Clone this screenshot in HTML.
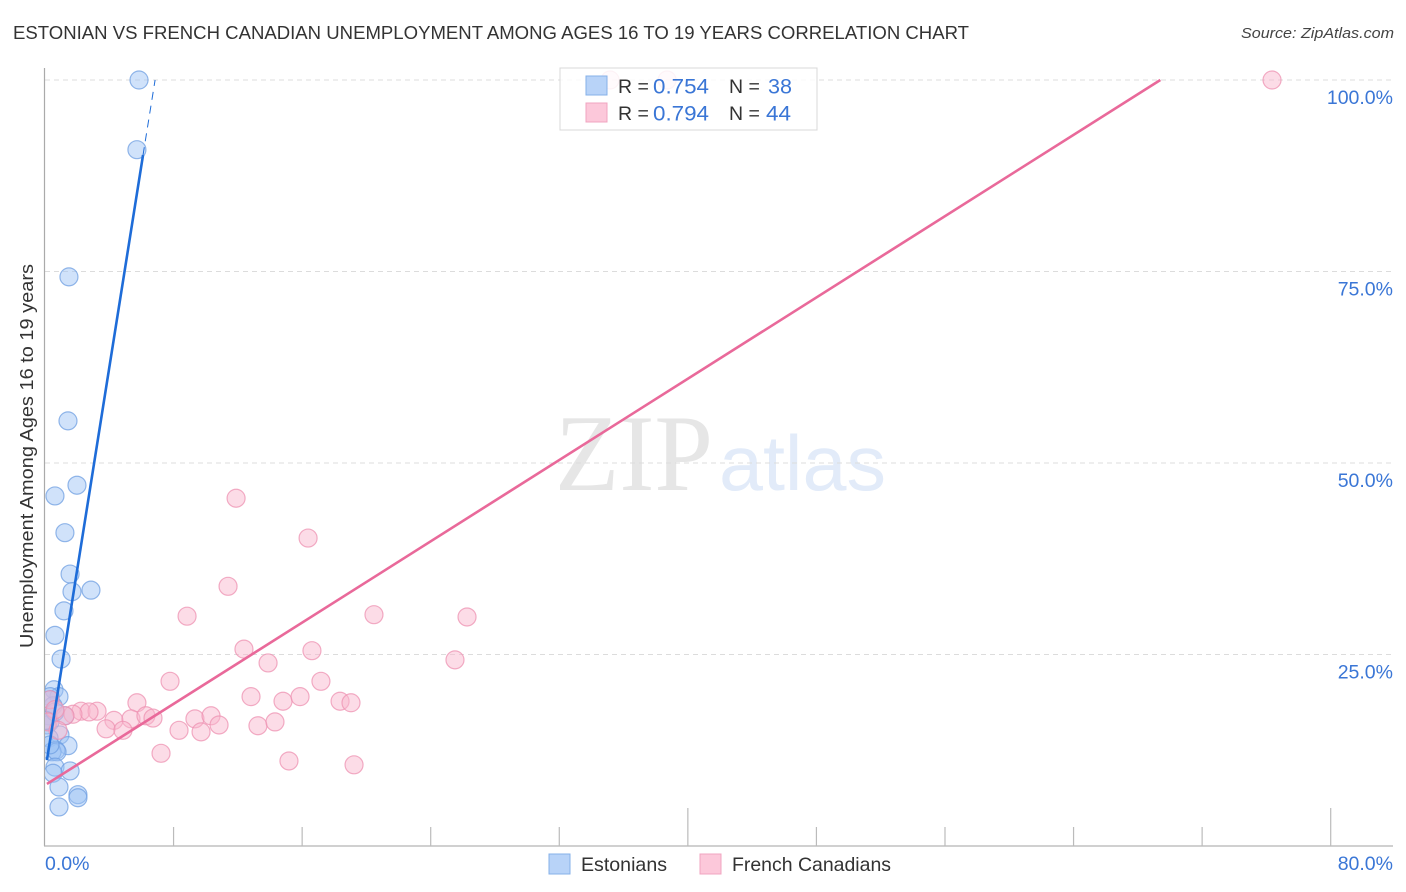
<!DOCTYPE html>
<html lang="en">
<head>
<meta charset="utf-8">
<title>Estonian vs French Canadian Unemployment Correlation Chart</title>
<style>
html,body{margin:0;padding:0;background:#fff;width:1406px;height:892px;overflow:hidden}
svg{display:block;font-family:"Liberation Sans",sans-serif}
</style>
</head>
<body>
<svg id="chart" width="1406" height="892" viewBox="0 0 1406 892" xmlns="http://www.w3.org/2000/svg">
  <defs>
    <clipPath id="plot-clip"><rect x="45" y="60" width="1348" height="786"/></clipPath>
  </defs>
  <text x="13" y="39" font-size="18.5" fill="#333" textLength="956" lengthAdjust="spacingAndGlyphs">ESTONIAN VS FRENCH CANADIAN UNEMPLOYMENT AMONG AGES 16 TO 19 YEARS CORRELATION CHART</text>
  <text x="1394" y="38" font-size="15" font-style="italic" fill="#444" text-anchor="end" textLength="153" lengthAdjust="spacingAndGlyphs">Source: ZipAtlas.com</text>
  <text x="555" y="490" font-size="109" fill="#e6e6e6" style="font-family:'Liberation Serif',serif" textLength="158" lengthAdjust="spacingAndGlyphs">ZIP</text>
  <text x="719" y="490" font-size="78" fill="#e2ebf9" textLength="167" lengthAdjust="spacingAndGlyphs">atlas</text>
  <g id="grid"></g>
  <g id="axes"></g>
  <g id="points" clip-path="url(#plot-clip)"></g>
  <g id="trends"></g>
  <text transform="translate(33,456) rotate(-90)" font-size="18.5" fill="#333" text-anchor="middle" textLength="384" lengthAdjust="spacingAndGlyphs">Unemployment Among Ages 16 to 19 years</text>
  <g>
    <rect x="560" y="68" width="257" height="62" fill="#fff" fill-opacity="0.85" stroke="#d8d8d8"/>
    <rect x="586" y="76" width="21" height="19" fill="#b8d3f8" stroke="#86b0e8"/>
    <rect x="586" y="103" width="21" height="19" fill="#fcc8da" stroke="#f0a4c0"/>
    <text x="618" y="93" font-size="19.5" fill="#333" xml:space="preserve">R =</text>
    <text x="653" y="93.500" font-size="21" fill="#3a76d6" textLength="56" lengthAdjust="spacingAndGlyphs">0.754</text>
    <text x="729" y="93" font-size="19.5" fill="#333" xml:space="preserve">N =</text>
    <text x="768" y="93.500" font-size="21" fill="#3a76d6" textLength="24" lengthAdjust="spacingAndGlyphs">38</text>
    <text x="618" y="120" font-size="19.5" fill="#333" xml:space="preserve">R =</text>
    <text x="653" y="120.500" font-size="21" fill="#3a76d6" textLength="56" lengthAdjust="spacingAndGlyphs">0.794</text>
    <text x="729" y="120" font-size="19.5" fill="#333" xml:space="preserve">N =</text>
    <text x="766" y="120.500" font-size="21" fill="#3a76d6" textLength="25" lengthAdjust="spacingAndGlyphs">44</text>
  </g>
  <g>
    <rect x="549" y="854" width="21" height="20" fill="#b8d3f8" stroke="#86b0e8"/>
    <text x="581" y="871" font-size="19.5" fill="#333" textLength="86" lengthAdjust="spacingAndGlyphs">Estonians</text>
    <rect x="700" y="854" width="21" height="20" fill="#fcc8da" stroke="#f0a4c0"/>
    <text x="732" y="871" font-size="19.5" fill="#333" textLength="159" lengthAdjust="spacingAndGlyphs">French Canadians</text>
  </g>
</svg>
<script>
const estoniansX = [5.85,5.72,1.49,1.43,0.62,1.99,1.24,1.56,1.68,2.86,1.18,0.62,1.0,0.56,0.87,0.31,0.5,1.24,0.19,0.31,0.12,0.93,0.25,1.43,0.68,0.44,0.75,0.62,1.56,0.5,0.87,0.87,2.05,2.05,0.31,0.62,0.06,0.31];
const estoniansY = [100,90.9,74.3,55.5,45.7,47.1,40.9,35.5,33.2,33.4,30.7,27.5,24.4,20.4,19.5,19.5,18.3,17.0,17.0,16.2,15.8,14.5,14.1,13.1,12.5,12.3,12.3,10.3,9.8,9.5,7.7,5.1,6.7,6.3,19.1,17.5,16.4,13.2];
const frenchX = [76.35,35.16,38.71,11.89,16.37,11.39,8.84,20.47,26.26,12.38,25.51,16.61,13.88,7.78,17.17,5.72,12.82,14.81,15.87,18.36,19.04,2.24,3.24,2.74,1.74,1.24,4.29,5.35,6.28,6.72,9.33,10.33,3.8,4.85,8.34,9.71,10.83,13.25,14.31,7.22,15.18,19.23,0.31,0.62,0.19,0.81];
const frenchY = [100,100,100,45.4,40.2,33.9,30.0,30.2,29.9,25.7,24.3,25.5,23.9,21.5,21.5,18.7,19.5,18.9,19.5,18.9,18.7,17.6,17.6,17.5,17.2,17.0,16.4,16.6,17.0,16.7,16.6,17.0,15.3,15.1,15.1,14.9,15.8,15.7,16.2,12.1,11.1,10.6,19.1,17.8,16.2,15.1];
const estoniansTrendX = [0.12,6.1];
const estoniansTrendY = [11.2,90.2];
const estoniansDashX = [6.1,6.85];
const estoniansDashY = [90.2,100];
const frenchTrendX = [0.12,69.4];
const frenchTrendY = [8.1,100];
const yTickValues = [25,50,75,100];
const yTickLabels = ["25.0%","50.0%","75.0%","100.0%"];
const xTickValues = [8,16,24,32,40,48,56,64,72,80];
const xMajorTicks = [40,80];
const xEndLabels = ["0.0%","80.0%"];

const NS = "http://www.w3.org/2000/svg";
const xScale = v => 45 + v * (1285.7 / 80);
const yScale = v => 846 - v * 7.66;

function make(parent, tag, attrs) {
  const el = document.createElementNS(NS, tag);
  for (const k in attrs) el.setAttribute(k, attrs[k]);
  parent.appendChild(el);
  return el;
}

const grid = document.getElementById("grid");
const axes = document.getElementById("axes");
const pts = document.getElementById("points");
const trends = document.getElementById("trends");

yTickValues.forEach((v, i) => {
  const line = make(grid, "line", {x1:45, x2:1393, y1:yScale(v), y2:yScale(v), stroke:"#dcdcdc", "stroke-width":1, "stroke-dasharray":"5 4"});
  
  
  const label = make(axes, "text", {x:1393, y:yScale(v) + 24, "font-size":19.5, fill:"#3a76d6", "text-anchor":"end"});
  label.textContent = yTickLabels[i];
  
  
});

const yAxis = make(axes, "line", {x1:44.5, x2:44.5, y1:68, y2:846, stroke:"#aaa", "stroke-width":1.2});


const xAxis = make(axes, "line", {x1:44, x2:1393, y1:846, y2:846, stroke:"#b4b4b4", "stroke-width":1.2});



xTickValues.forEach(v => {
  const major = xMajorTicks.includes(v);
  const tick = make(axes, "line", {x1:xScale(v), x2:xScale(v), y1:846, y2:major ? 808 : 827, stroke:"#bbb", "stroke-width":1.2});
  
  
});

const xLeft = make(axes, "text", {x:45, y:870, "font-size":19.5, fill:"#3a76d6"});
xLeft.textContent = xEndLabels[0];


const xRight = make(axes, "text", {x:1393, y:870, "font-size":19.5, fill:"#3a76d6", "text-anchor":"end"});
xRight.textContent = xEndLabels[1];



estoniansX.forEach((v, i) => {
  const c = make(pts, "circle", {cx:xScale(v), cy:yScale(estoniansY[i]), r:9, fill:"#9cc2f4", "fill-opacity":0.48, stroke:"#6f9fe2", "stroke-opacity":0.75, "stroke-width":1.2});
  
  
});
frenchX.forEach((v, i) => {
  const c = make(pts, "circle", {cx:xScale(v), cy:yScale(frenchY[i]), r:9, fill:"#f9b6cc", "fill-opacity":0.48, stroke:"#ee92b2", "stroke-opacity":0.75, "stroke-width":1.2});
  
  
});

const blueTrend = make(trends, "line", {x1:xScale(estoniansTrendX[0]), y1:yScale(estoniansTrendY[0]), x2:xScale(estoniansTrendX[1]), y2:yScale(estoniansTrendY[1]), stroke:"#1e6cd8", "stroke-width":2.6});


const blueDash = make(trends, "line", {x1:xScale(estoniansDashX[0]), y1:yScale(estoniansDashY[0]), x2:xScale(estoniansDashX[1]), y2:yScale(estoniansDashY[1]), stroke:"#1e6cd8", "stroke-width":1, "stroke-dasharray":"8 6"});


const pinkTrend = make(trends, "line", {x1:xScale(frenchTrendX[0]), y1:yScale(frenchTrendY[0]), x2:xScale(frenchTrendX[1]), y2:yScale(frenchTrendY[1]), stroke:"#e9699a", "stroke-width":2.6});


</script>
</body>
</html>
